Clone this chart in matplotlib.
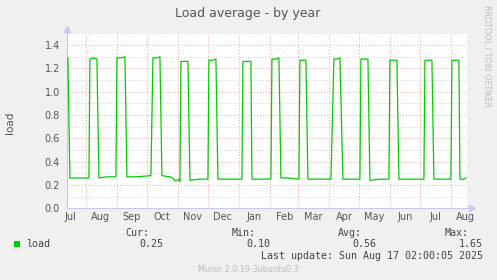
import numpy as np
import pandas as pd
import matplotlib
matplotlib.use('Agg')
import matplotlib.pyplot as plt
from matplotlib.patches import Rectangle

# load average (date, value)
dates = ['2024-07-14', '2024-07-16', '2024-07-25', '2024-08-04',
         '2024-08-05', '2024-08-09', '2024-08-12', '2024-08-14', '2024-08-22', '2024-08-31',
         '2024-09-01', '2024-09-05', '2024-09-09', '2024-09-11', '2024-09-20', '2024-10-05',
         '2024-10-07', '2024-10-11', '2024-10-14', '2024-10-16', '2024-10-24', '2024-10-27',
         '2024-10-29', '2024-10-31', '2024-11-02', '2024-11-03',
         '2024-11-04', '2024-11-08', '2024-11-11', '2024-11-13', '2024-11-22', '2024-12-01',
         '2024-12-02', '2024-12-06', '2024-12-09', '2024-12-11', '2024-12-22', '2025-01-04',
         '2025-01-05', '2025-01-09', '2025-01-13', '2025-01-14', '2025-01-24', '2025-02-02',
         '2025-02-03', '2025-02-07', '2025-02-10', '2025-02-12', '2025-02-20', '2025-03-02',
         '2025-03-03', '2025-03-06', '2025-03-09', '2025-03-11', '2025-03-22', '2025-04-03',
         '2025-04-06', '2025-04-09', '2025-04-12', '2025-04-15', '2025-04-24', '2025-05-02',
         '2025-05-03', '2025-05-07', '2025-05-10', '2025-05-12', '2025-05-22', '2025-05-31',
         '2025-06-01', '2025-06-05', '2025-06-08', '2025-06-10', '2025-06-22', '2025-07-05',
         '2025-07-06', '2025-07-10', '2025-07-13', '2025-07-15', '2025-07-24', '2025-08-01',
         '2025-08-02', '2025-08-06', '2025-08-09', '2025-08-10', '2025-08-14', '2025-08-16']
load = [1.29, 0.26, 0.26, 0.26,
        1.28, 1.29, 1.28, 0.26, 0.27, 0.27,
        1.29, 1.29, 1.30, 0.27, 0.27, 0.28,
        1.29, 1.29, 1.30, 0.28, 0.27, 0.26,
        0.235, 0.24, 0.25, 0.23,
        1.26, 1.26, 1.26, 0.24, 0.25, 0.25,
        1.27, 1.27, 1.28, 0.25, 0.25, 0.25,
        1.26, 1.26, 1.26, 0.25, 0.25, 0.25,
        1.28, 1.28, 1.29, 0.26, 0.26, 0.25,
        1.27, 1.27, 1.27, 0.25, 0.25, 0.25,
        1.28, 1.28, 1.29, 0.25, 0.25, 0.25,
        1.28, 1.28, 1.28, 0.24, 0.25, 0.25,
        1.27, 1.27, 1.27, 0.25, 0.25, 0.25,
        1.27, 1.27, 1.27, 0.25, 0.25, 0.25,
        1.27, 1.27, 1.27, 0.25, 0.25, 0.26]

month_labels = ['Jul', 'Aug', 'Sep', 'Oct', 'Nov', 'Dec', 'Jan',
                'Feb', 'Mar', 'Apr', 'May', 'Jun', 'Jul', 'Aug']
legend_stats = {'Cur:': '0.25', 'Min:': '0.10', 'Avg:': '0.56', 'Max:': '1.65'}

W, H = 497, 280
fig = plt.figure(figsize=(W / 100, H / 100), dpi=100, facecolor='#F0F0F0')
ax = fig.add_axes([67 / W, 1 - 208.3 / H, 400 / W, (208.3 - 33.4) / H])
ax.set_facecolor('white')

x = pd.to_datetime(dates)
ax.plot(x, load, color='#00CC00', lw=0.9, zorder=3)

ax.set_xlim(pd.Timestamp('2024-07-13 02:00'), pd.Timestamp('2025-08-17 02:00'))
ax.set_ylim(0, 1.5)

# grids: months major (red), 0.2 major red, 0.1 minor gray
dot = (0, (1, 2))
months = pd.date_range('2024-08-01', '2025-08-01', freq='MS')
for m in months:
    ax.axvline(m, color='#F4A0A0', lw=0.7, ls=dot, zorder=1)
for v in np.arange(0.1, 1.55, 0.1):
    major = abs(v / 0.2 - round(v / 0.2)) < 1e-6
    ax.axhline(v, color='#F4A0A0' if major else '#CCCCCC', lw=0.7, ls=dot, zorder=1)

ax.set_yticks(np.arange(0, 1.45, 0.2))
ax.set_yticklabels(['%.1f' % v for v in np.arange(0, 1.45, 0.2)])
mids = pd.date_range('2024-07-01', '2025-08-01', freq='MS') + pd.Timedelta(days=15)
ax.set_xticks(mids)
ax.set_xticklabels(month_labels)
ax.tick_params(axis='both', length=0, labelsize=7, colors='#555555')
ax.tick_params(axis='y', pad=5)
ax.tick_params(axis='x', pad=3)

for s in ['top', 'right']:
    ax.spines[s].set_visible(False)
for s in ['left', 'bottom']:
    ax.spines[s].set_color('#C8C8F0')
    ax.spines[s].set_linewidth(0.8)
ax.plot([1.0, 1.01], [0, 0], color='#C8C8F0', lw=0.8, transform=ax.transAxes, clip_on=False)
ax.plot(1.012, 0, '>', ms=4, color='#C8C8F0', mec='#C8C8F0', transform=ax.transAxes, clip_on=False)
ax.plot([0, 0], [1.0, 1.02], color='#C8C8F0', lw=0.8, transform=ax.transAxes, clip_on=False)
ax.plot(0, 1.025, '^', ms=4, color='#C8C8F0', mec='#C8C8F0', transform=ax.transAxes, clip_on=False)

ax.set_ylabel('load', fontsize=7.5, color='#555555')
ax.yaxis.set_label_coords(-52 / 400, 0.49)

def px(xp, yp):
    return xp / W, 1 - yp / H

fig.text(*px(248, 13), 'Load average - by year', fontsize=9, color='#555555',
         ha='center', va='center')
fig.text(*px(487, 5), 'RRDTOOL / TOBI OETIKER', fontsize=5.8, color='#BBBBBB',
         rotation=270, ha='center', va='top')

mono = 'DejaVu Sans Mono'
fig.patches.append(Rectangle(px(13.5, 246.5), 6 / W, 6 / H, transform=fig.transFigure,
                             facecolor='#00CC00', edgecolor='none'))
fig.text(*px(26, 244), 'load', family=mono, fontsize=7.2, color='#444444', va='center')
label_ends = [149, 256, 362, 469]
for (name, val), xe in zip(legend_stats.items(), label_ends):
    fig.text(*px(xe, 233), name, family=mono, fontsize=7.2, color='#444444',
             ha='right', va='center')
    fig.text(*px(xe + 14, 244), val, family=mono, fontsize=7.2, color='#444444',
             ha='right', va='center')
fig.text(*px(483, 256), 'Last update: Sun Aug 17 02:00:05 2025', family=mono,
         fontsize=7.2, color='#444444', ha='right', va='center')
fig.text(*px(248.5, 269), 'Munin 2.0.19-3ubuntu0.3', fontsize=5.8, color='#BBBBBB',
         ha='center', va='center')

fig.savefig('out.png', dpi=100, facecolor=fig.get_facecolor())
